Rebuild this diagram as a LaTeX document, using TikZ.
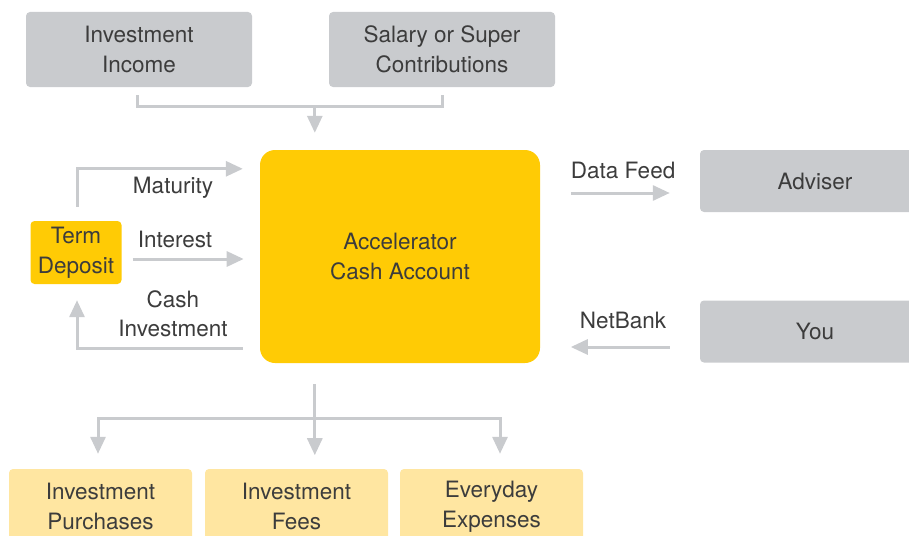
\documentclass[tikz,border=0pt]{standalone}
\usepackage{fontspec}
\setmainfont{TeX Gyre Heros}
\usetikzlibrary{calc}
\usetikzlibrary{arrows.meta}

\definecolor{boxgrey}{HTML}{C9CBCE}
\definecolor{linegrey}{HTML}{C9CBCE}
\definecolor{cashyellow}{HTML}{FFCB05}
\definecolor{paleyellow}{HTML}{FFE6A1}
\definecolor{inkgrey}{HTML}{3C3C3C}

\tikzset{
  every node/.style={text=inkgrey, font=\fontsize{22.5}{29.5}\selectfont, align=center},
  greybox/.style={fill=boxgrey, rounded corners=4pt, minimum width=226pt, minimum height=75pt},
  sidebox/.style={fill=boxgrey, rounded corners=4pt, minimum width=230pt, minimum height=62pt},
  costbox/.style={fill=paleyellow, rounded corners=4pt, minimum width=183pt, minimum height=75pt},
  link/.style={line width=3pt, draw=linegrey},
  flow/.style={link, -{Triangle[width=15pt,length=17pt]}},
}

\begin{document}
\begin{tikzpicture}[x=1pt,y=1pt]

\clip (0,0) rectangle (909,-535);

% sources
\node[greybox] (inc) at (139,-49.5) {Investment\\Income};
\node[greybox] (sal) at (442,-49.5) {Salary or Super\\Contributions};

% the account
\node[fill=cashyellow, rounded corners=15pt, minimum width=280pt, minimum height=213pt] (acc) at (400,-256.5) {Accelerator\\Cash Account};
\node[fill=cashyellow, rounded corners=4pt, minimum width=91pt, minimum height=63pt, inner sep=2pt] (td) at (76,-252.5) {Term\\Deposit};

% outside parties
\node[sidebox] (adv) at (815,-181) {Adviser};
\node[sidebox] (you) at (815,-331.5) {You};

% where the money goes
\node[costbox] (buy) at (100.5,-506.5) {Investment\\Purchases};
\node[costbox] (fees) at (296.5,-506.5) {Investment\\Fees};
\node[costbox] (spend) at (491.5,-506.5) {Everyday\\Expenses};

% money in
\draw[link] ($(inc.south)+(-2,-8)$) -- ++(0,-11) -| ($(sal.south)+(0,-8)$);
\draw[flow] ($(acc.north west)+(55,44)$) -- ($(acc.north west)+(55,17)$);

% term deposit loop
\draw[flow] ($(td.north)+(1,14)$) |- ($(acc.north west)+(-17,-19)$);
\node (mat) at (173,-188) {Maturity};
\coordinate (intL) at ($(td.east)+(11,-6.5)$);
\draw[flow] (intL) -- ++(111,0);
\node (int) at (175,-239) {Interest};
\draw[flow] ($(acc.south west)+(-17,15)$) -| ($(td.south)+(1,-16)$);
\node (inv) at (173,-314) {Cash\\Investment};

% data feed and netbank
\draw[flow] ($(adv.west)+(-129,-12)$) -- ++(99,0);
\node (feed) at (623,-170) {Data Feed};
\draw[flow] ($(you.west)+(-30,-15.5)$) -- ++(-99,0);
\node (nb) at (623,-320) {NetBank};

% money out
\coordinate (split) at ($(acc.south west)+(55,-21)$);
\coordinate (fork) at ($(split)+(0,-34)$);
\draw[flow] (split) -- ++(0,-71);
\draw[flow] (fork) -| ($(buy.north)+(-2.5,15)$);
\draw[flow] (fork) -| ($(spend.north)+(8.5,15)$);

\end{tikzpicture}
\end{document}
